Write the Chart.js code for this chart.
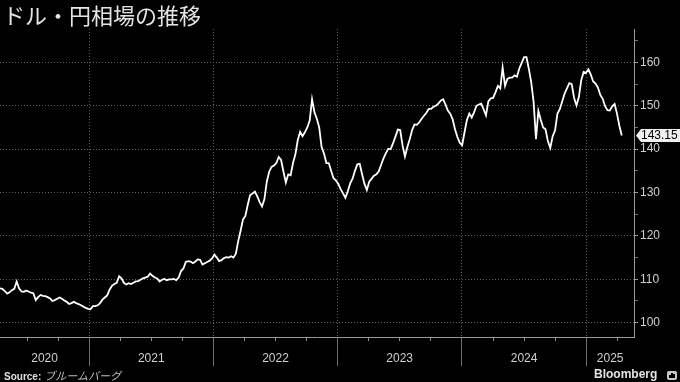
<!DOCTYPE html>
<html lang="ja">
<head>
<meta charset="UTF-8">
<title>ドル・円相場の推移</title>
<script src="https://cdn.jsdelivr.net/npm/chart.js"></script>
<style>
  html, body { margin: 0; padding: 0; background: #000; }
  #wrap { position: relative; width: 680px; height: 382px; overflow: hidden; background: #000; }
  #chart { position: absolute; left: 0; top: 0; }
  #title { position: absolute; left: 3px; top: 3px; font: 22px/22px 'Noto Sans CJK JP', sans-serif; color: #e4e4e4; white-space: nowrap; }
  #source { position: absolute; left: 4px; top: 369px; font: bold 10px/12px 'Liberation Sans', sans-serif; color: #e0e0e0; white-space: nowrap; }
  #source span { font: italic 11px/12px 'Noto Sans CJK JP', sans-serif; color: #bdbdbd; margin-left: 3px; }
  #brand { position: absolute; left: 594px; top: 367px; font: bold 12px/14px 'Liberation Sans', sans-serif; color: #e4e4e4; }
  #logo { position: absolute; left: 667px; top: 371px; width: 10px; height: 9px; background: #c8c8c8; border-radius: 2px; }
  #logo i { position: absolute; bottom: 2px; width: 2px; background: #000; }
</style>
</head>
<body>
<div id="wrap">
  <canvas id="chart" width="680" height="382"></canvas>
  <div id="title">ドル・円相場の推移</div>
  <div id="source">Source:<span>ブルームバーグ</span></div>
  <div id="brand">Bloomberg</div>
  <div id="logo"><i style="left:2px;height:3px"></i><i style="left:4px;height:5px"></i><i style="left:6px;height:4px"></i></div>
</div>
<script>
// weekly USD/JPY closes, first one on startDate
const startDate = '2020-04-14';
const endDate = '2025-05-21';
const yearLabels = [2020, 2021, 2022, 2023, 2024, 2025];
const yTickValues = [100, 105, 110, 115, 120, 125, 130, 135, 140, 145, 150, 155, 160, 165];
const weeklyClose = [
  107.9, 107.8, 107.3, 106.7, 107.0, 107.5, 107.8, 109.5, 107.9, 107.2,
  107.1, 107.4, 107.2, 106.9, 106.8, 105.2, 105.9, 106.4, 106.2, 106.1,
  105.9, 105.6, 105.0, 105.2, 105.5, 105.8, 105.5, 105.1, 104.8, 104.3,
  104.5, 104.8, 104.5, 104.3, 104.0, 103.7, 103.4, 103.2, 103.1, 103.8,
  103.8, 104.0, 104.5, 105.3, 105.8, 106.3, 107.6, 108.5, 108.9, 109.2,
  110.7, 110.2, 109.2, 108.8, 109.1, 108.9, 109.2, 109.5, 109.6, 109.9,
  110.2, 110.4, 110.6, 111.3, 110.8, 110.4, 110.2, 109.5, 109.9, 110.1,
  109.8, 110.0, 110.0, 110.1, 109.8, 110.4, 111.9, 112.5, 114.0, 114.2,
  114.1, 113.7, 114.1, 114.6, 114.5, 113.4, 113.7, 114.0, 114.3, 114.8,
  115.7, 115.0, 114.2, 114.4, 114.9, 115.1, 115.0, 115.3, 115.0, 115.9,
  118.8, 121.2, 123.8, 124.6, 127.2, 129.4, 129.8, 130.2, 129.1, 127.8,
  126.8, 128.5, 132.5, 134.8, 135.9, 136.2, 136.8, 138.2, 137.5, 134.8,
  132.3, 134.2, 134.0, 136.8, 138.8, 142.1, 144.0, 143.0, 143.9, 145.0,
  146.6, 151.5, 148.5, 147.0, 145.0, 140.5, 139.0, 136.8, 136.8, 135.0,
  133.3, 132.8, 132.0, 130.8, 129.8, 128.8, 130.3, 132.1, 133.2, 135.0,
  136.5, 136.6, 134.2, 132.0, 130.6, 132.5, 133.2, 133.9, 134.2, 134.9,
  136.4, 137.9, 139.1, 140.1, 140.0, 141.4, 142.9, 144.5, 144.4, 140.8,
  138.3, 140.5, 142.3, 144.4, 145.7, 145.6, 146.2, 147.0, 147.7, 148.4,
  149.3, 149.3, 149.8, 150.0, 150.5, 151.2, 151.5, 150.3, 148.9, 148.2,
  146.9, 144.6, 142.8, 141.5, 140.9, 143.9, 146.7, 148.2, 147.3, 148.5,
  150.0, 150.3, 150.5, 149.2, 147.8, 151.0, 151.7, 151.8, 153.1, 154.6,
  154.0, 158.8, 154.6, 156.2, 156.5, 156.5, 157.0, 156.7, 158.6, 159.9,
  161.2, 161.2, 158.5, 155.4, 150.9, 142.3, 148.8, 146.8, 145.0, 144.6,
  141.8, 140.3, 143.0, 144.3, 148.2, 149.2, 151.0, 152.8, 154.0, 155.2,
  155.0, 151.8, 150.1, 152.0, 155.9, 157.8, 157.6, 158.4, 157.2, 155.6,
  155.1, 154.2, 152.5, 151.6, 149.9, 149.0, 148.9, 149.9, 150.4, 148.2,
  145.4, 143.15
];

const WEEK = 7 * 86400000;
const t0 = Date.parse(startDate);
const t1 = Date.parse(endDate);
const points = weeklyClose.map((v, i) => ({ x: t0 + i * WEEK, y: v }));

// year boundaries get a divider, labels sit in the middle of each visible year
const yearStarts = yearLabels.slice(1).map(y => Date.UTC(y, 0, 1));
const labelAt = {};
yearLabels.forEach(y => {
  const a = Math.max(Date.UTC(y, 0, 1), t0);
  const b = Math.min(Date.UTC(y + 1, 0, 1), t1);
  labelAt[(a + b) / 2] = String(y);
});
const xTickValues = yearStarts.concat(Object.keys(labelAt).map(Number)).sort((a, b) => a - b);
const isYearStart = v => yearStarts.includes(v);

const FONT = "'Liberation Sans', Arial, sans-serif";

const extras = {
  id: 'extras',
  afterDraw(chart) {
    const { ctx, chartArea, scales: { x, y } } = chart;
    ctx.save();
    // quarterly ticks under the time axis
    ctx.strokeStyle = '#8c8c8c';
    ctx.lineWidth = 1;
    ctx.beginPath();
    yearLabels.forEach(yr => {
      [3, 6, 9].forEach(m => {
        const t = Date.UTC(yr, m, 1);
        if (t <= x.min || t >= x.max) return;
        const px = Math.round(x.getPixelForValue(t)) + 0.5;
        ctx.moveTo(px, chartArea.bottom);
        ctx.lineTo(px, chartArea.bottom + 4);
      });
    });
    ctx.stroke();

    // last value tag
    const last = weeklyClose[weeklyClose.length - 1];
    const py = y.getPixelForValue(last);
    const x0 = chartArea.right + 2;
    ctx.fillStyle = '#f0f0f0';
    ctx.beginPath();
    ctx.moveTo(x0, py);
    ctx.lineTo(x0 + 5, py - 6.5);
    ctx.lineTo(chart.width, py - 6.5);
    ctx.lineTo(chart.width, py + 6.5);
    ctx.lineTo(x0 + 5, py + 6.5);
    ctx.closePath();
    ctx.fill();
    ctx.fillStyle = '#000';
    ctx.font = '12px ' + FONT;
    ctx.textBaseline = 'middle';
    ctx.fillText(last.toFixed(2), x0 + 5, py + 0.5);
    ctx.restore();
  }
};

new Chart(document.getElementById('chart'), {
  type: 'line',
  data: {
    datasets: [{
      data: points,
      borderColor: '#ffffff',
      borderWidth: 1.8,
      pointRadius: 0,
      tension: 0,
      fill: false
    }]
  },
  options: {
    responsive: false,
    animation: false,
    devicePixelRatio: 1,
    layout: { padding: { top: 29, left: 0, right: 0, bottom: 0 } },
    plugins: { legend: { display: false }, tooltip: { enabled: false } },
    scales: {
      x: {
        type: 'linear',
        min: t0,
        max: t1,
        afterBuildTicks: s => { s.ticks = xTickValues.map(v => ({ value: v })); },
        afterFit: s => { s.height = 45; },
        ticks: {
          autoSkip: false,
          maxRotation: 0,
          padding: -15,
          color: '#d0d0d0',
          font: { family: FONT, size: 12 },
          callback: v => labelAt[v] || ''
        },
        grid: {
          color: c => (c.tick && isYearStart(c.tick.value)) ? '#5c5c5c' : 'transparent',
          tickColor: c => (c.tick && isYearStart(c.tick.value)) ? '#6e6e6e' : 'transparent',
          tickLength: 29
        },
        border: { color: '#9a9a9a', width: 1, dash: [1, 2] }
      },
      y: {
        position: 'right',
        min: 96.7,
        max: 167.7,
        afterBuildTicks: s => { s.ticks = yTickValues.map(v => ({ value: v })); },
        afterFit: s => { s.width = 46; },
        ticks: {
          padding: 2,
          color: '#d0d0d0',
          font: { family: FONT, size: 12 },
          callback: v => (v % 10 === 0 ? String(v) : '')
        },
        grid: {
          color: c => (c.tick && c.tick.value % 10 === 0) ? '#5c5c5c' : 'transparent',
          tickColor: c => (c.tick && c.tick.value % 10 === 0) ? '#9a9a9a' : '#6e6e6e',
          tickLength: 4
        },
        border: { color: '#9a9a9a', width: 1, dash: [1, 2] }
      }
    }
  },
  plugins: [extras]
});
</script>
</body>
</html>
